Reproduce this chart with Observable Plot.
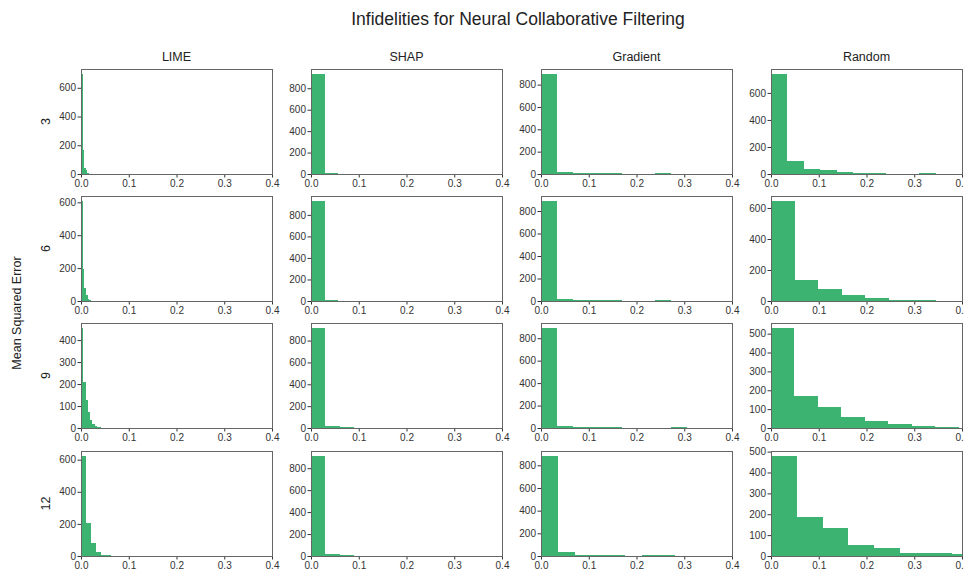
<!DOCTYPE html>
<html>
<head>
<meta charset="utf-8">
<script src="https://cdn.jsdelivr.net/npm/d3@7"></script>
<script src="https://cdn.jsdelivr.net/npm/@observablehq/plot@0.6"></script>
<style>
  html, body { margin: 0; padding: 0; background: white; }
  #wrap { position: relative; width: 964px; height: 575px; overflow: hidden; background: white; }
  .panel { position: absolute; }
  .panel svg { max-width: none !important; display: block; }
  #labels { position: absolute; left: 0; top: 0; }
</style>
</head>
<body>
<div id="wrap"></div>
<script>
// ---------- data ----------
const title = "Infidelities for Neural Collaborative Filtering";
const methods = ["LIME", "SHAP", "Gradient", "Random"];
const rowLabels = ["3", "6", "9", "12"];
const yAxisLabel = "Mean Squared Error";
const xTicks = [0, 0.1, 0.2, 0.3, 0.4];

// histogram counts per row (3, 6, 9, 12), bins start at 0
const limeCounts = [
  [696, 170, 45, 30, 10, 3, 2, 1, 0, 1],
  [608, 192, 81, 36, 15, 8, 3, 1, 1, 1],
  [455, 210, 127, 72, 36, 20, 10, 6, 3, 2],
  [623, 206, 80, 27, 6, 4, 1, 0, 1, 1]
];
const limeBinWidth = [0.0033, 0.0035, 0.00475, 0.0105];

const shapCounts = [
  [933, 5, 3, 2, 1, 1, 0, 1, 0, 1],
  [929, 8, 3, 2, 1, 1, 0, 0, 1, 1],
  [915, 18, 9, 2, 1, 1, 0, 0, 0, 1],
  [911, 21, 9, 3, 1, 1, 0, 0, 0, 1]
];
const shapBinWidth = [0.0286, 0.0286, 0.030, 0.030];

const gradientCounts = [
  [895, 16, 6, 6, 5, 0, 0, 7, 0, 1],
  [889, 14, 6, 6, 5, 0, 0, 6, 0, 1],
  [891, 15, 6, 6, 5, 0, 0, 0, 8, 1],
  [882, 35, 6, 5, 5, 0, 5, 5, 4, 1]
];
const gradientBinWidth = [0.034, 0.034, 0.034, 0.0352];

const randomCounts = [
  [740, 93, 37, 29, 17, 7, 10, 0, 0, 5],
  [645, 135, 79, 41, 19, 9, 4, 1, 0, 1],
  [530, 170, 112, 59, 35, 23, 10, 5, 2, 1],
  [479, 185, 133, 55, 36, 16, 14, 10, 5, 2]
];
const randomBinWidth = [0.0345, 0.0493, 0.0492, 0.0541];

const yTickStep = {
  LIME: [200, 200, 100, 200],
  SHAP: [200, 200, 200, 200],
  Gradient: [200, 200, 200, 200],
  Random: [200, 200, 100, 100]
};

const countsBy = { LIME: limeCounts, SHAP: shapCounts, Gradient: gradientCounts, Random: randomCounts };
const widthBy = { LIME: limeBinWidth, SHAP: shapBinWidth, Gradient: gradientBinWidth, Random: randomBinWidth };

// ---------- layout ----------
const panelLeft = [81, 311, 541, 771];
const panelTop = [69, 196, 323, 451];
const pw = 191, ph = 105;
const ml = 36, mr = 10, mt = 6, mb = 20;
const barColor = "#3cb371";
const font = "'Liberation Sans', Arial, sans-serif";

const wrap = document.getElementById("wrap");

function panel(counts, bw, step) {
  const bins = counts.map((c, i) => ({ x1: i * bw, x2: (i + 1) * bw, c }));
  const ymax = d3.max(counts) * 1.05;
  return Plot.plot({
    width: pw + ml + mr,
    height: ph + mt + mb,
    marginLeft: ml, marginRight: mr, marginTop: mt, marginBottom: mb,
    style: { fontFamily: font, fontSize: "10px", color: "#333", background: "transparent", overflow: "visible" },
    x: { domain: [0, 0.4], ticks: xTicks, tickFormat: d3.format(".1f"), tickSize: 3.5, tickPadding: 2, label: null },
    y: { domain: [0, ymax], ticks: d3.range(0, ymax, step), tickSize: 3.5, tickPadding: 2, label: null },
    marks: [
      Plot.rectY(bins, { x1: "x1", x2: "x2", y: "c", fill: barColor, clip: true, shapeRendering: "crispEdges" }),
      Plot.frame({ stroke: "#666", strokeWidth: 1 })
    ]
  });
}

methods.forEach((m, ci) => {
  rowLabels.forEach((r, ri) => {
    const el = panel(countsBy[m][ri], widthBy[m][ri], yTickStep[m][ri]);
    const d = document.createElement("div");
    d.className = "panel";
    d.style.left = (panelLeft[ci] - ml) + "px";
    d.style.top = (panelTop[ri] - mt) + "px";
    d.style.width = (pw + ml + mr) + "px";
    d.appendChild(el);
    wrap.appendChild(d);
  });
});

// ---------- text overlay ----------
const svg = d3.select(wrap).append("svg")
  .attr("id", "labels").attr("width", 964).attr("height", 575)
  .style("font-family", font).style("pointer-events", "none");

svg.append("text").attr("x", 518).attr("y", 25).attr("text-anchor", "middle")
  .attr("font-size", 17.5).attr("fill", "#222").text(title);

methods.forEach((m, ci) => {
  svg.append("text").attr("x", panelLeft[ci] + pw / 2).attr("y", 61).attr("text-anchor", "middle")
    .attr("font-size", 12.5).attr("fill", "#222").text(m);
});

rowLabels.forEach((r, ri) => {
  const cy = panelTop[ri] + ph / 2;
  svg.append("text").attr("transform", `translate(50,${cy}) rotate(-90)`).attr("text-anchor", "middle")
    .attr("font-size", 12.5).attr("fill", "#222").text(r);
});

svg.append("text").attr("transform", `translate(21,313) rotate(-90)`).attr("text-anchor", "middle")
  .attr("font-size", 12.5).attr("fill", "#222").text(yAxisLabel);
</script>
</body>
</html>
